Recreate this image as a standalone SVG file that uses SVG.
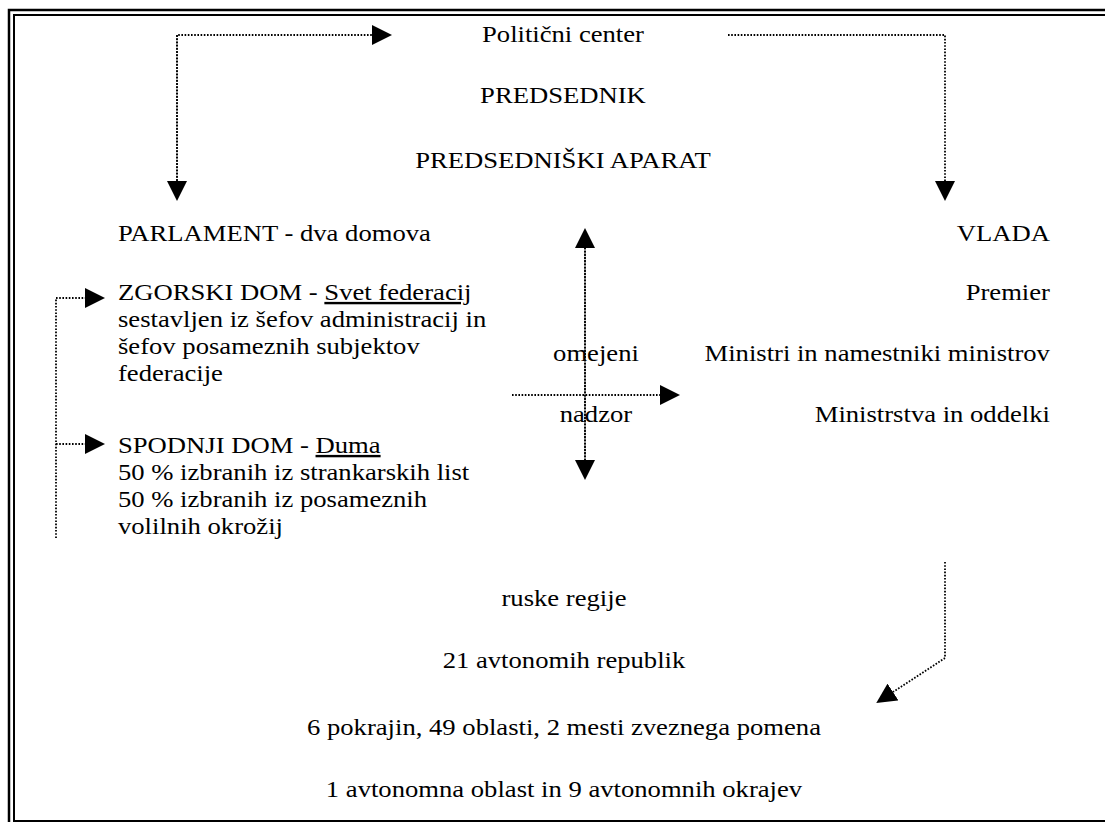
<svg xmlns="http://www.w3.org/2000/svg" width="1105" height="822" viewBox="0 0 1105 822" font-family="Liberation Serif, Times New Roman, serif" font-size="24">
<style>
.c{text-anchor:middle}
.r{text-anchor:end}
.u{text-decoration:underline}
.d{fill:none;stroke:#000;stroke-width:1.8;stroke-dasharray:1.6 1.6}
</style>
<defs>
<marker id="ah" markerUnits="userSpaceOnUse" markerWidth="20" markerHeight="20" refX="0" refY="10" orient="auto" viewBox="0 0 20 20">
<polygon points="0,0 20,10 0,20" fill="#000"/>
</marker>
</defs>
<g id="frame">
<rect x="9" y="10" width="1110" height="830" fill="none" stroke="#000" stroke-width="2.5"/>
<rect x="14" y="15" width="1100" height="806" fill="none" stroke="#000" stroke-width="2"/>
</g>
<g id="connectors">
<polyline class="d" points="177,181 177,35 372,35" marker-end="url(#ah)"/>
<line class="d" x1="177" y1="35" x2="177" y2="181" marker-end="url(#ah)"/>
<polyline class="d" points="728,35 945,35 945,181" marker-end="url(#ah)"/>
<polyline class="d" points="56,538 56,298 85,298" marker-end="url(#ah)"/>
<line class="d" x1="56" y1="444" x2="85" y2="444" marker-end="url(#ah)"/>
<line class="d" x1="585" y1="460" x2="585" y2="248" marker-end="url(#ah)"/>
<line class="d" x1="585" y1="248" x2="585" y2="460" marker-end="url(#ah)"/>
<line class="d" x1="512" y1="395" x2="660" y2="395" marker-end="url(#ah)"/>
<polyline class="d" points="945,562 945,658 893,692" marker-end="url(#ah)"/>
</g>
<g id="center" transform="scale(1.11,1)">
<text class="c" x="507.2" y="42">Politični center</text>
<text class="c" x="507.2" y="103">PREDSEDNIK</text>
<text class="c" x="507.2" y="168">PREDSEDNIŠKI APARAT</text>
</g>
<g id="parlament" transform="scale(1.11,1)">
<text x="106.3" y="241">PARLAMENT - dva domova</text>
</g>
<g id="zgorski" transform="scale(1.11,1)">
<text x="106.3" y="300">ZGORSKI DOM - <tspan class="u">Svet federacij</tspan></text>
<text x="106.3" y="327">sestavljen iz šefov administracij in</text>
<text x="106.3" y="354">šefov posameznih subjektov</text>
<text x="106.3" y="381">federacije</text>
</g>
<g id="spodnji" transform="scale(1.11,1)">
<text x="106.3" y="453">SPODNJI DOM - <tspan class="u">Duma</tspan></text>
<text x="106.3" y="480">50 % izbranih iz strankarskih list</text>
<text x="106.3" y="507">50 % izbranih iz posameznih</text>
<text x="106.3" y="534">volilnih okrožij</text>
</g>
<g id="nadzor" transform="scale(1.11,1)">
<text class="c" x="536.9" y="361">omejeni</text>
<text class="c" x="536.9" y="422">nadzor</text>
</g>
<g id="vlada" transform="scale(1.11,1)">
<text class="r" x="945.9" y="241">VLADA</text>
<text class="r" x="945.9" y="300">Premier</text>
<text class="r" x="945.9" y="361">Ministri in namestniki ministrov</text>
<text class="r" x="945.9" y="422">Ministrstva in oddelki</text>
</g>
<g id="regije" transform="scale(1.11,1)">
<text class="c" x="508.1" y="606">ruske regije</text>
<text class="c" x="508.1" y="668">21 avtonomih republik</text>
<text class="c" x="508.1" y="735">6 pokrajin, 49 oblasti, 2 mesti zveznega pomena</text>
<text class="c" x="508.1" y="797">1 avtonomna oblast in 9 avtonomnih okrajev</text>
</g>
</svg>
